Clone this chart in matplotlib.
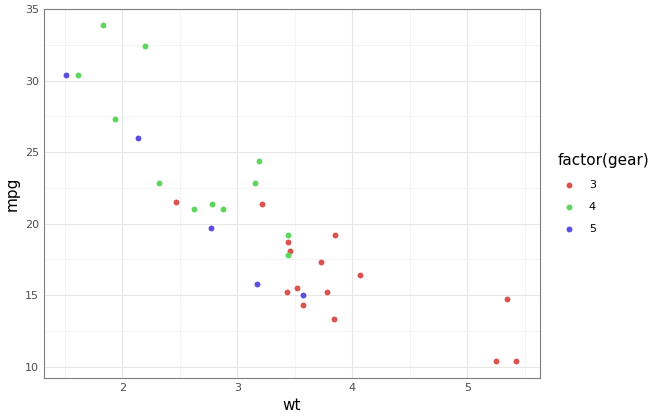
import matplotlib
matplotlib.use("Agg")
import matplotlib.pyplot as plt
import numpy as np

wt = [2.620, 2.875, 2.320, 3.215, 3.440, 3.460, 3.570, 3.190, 3.150, 3.440, 3.440,
      4.070, 3.730, 3.780, 5.250, 5.424, 5.345, 2.200, 1.615, 1.835, 2.465, 3.520,
      3.435, 3.840, 3.845, 1.935, 2.140, 1.513, 3.170, 2.770, 3.570, 2.780]
mpg = [21.0, 21.0, 22.8, 21.4, 18.7, 18.1, 14.3, 24.4, 22.8, 19.2, 17.8,
       16.4, 17.3, 15.2, 10.4, 10.4, 14.7, 32.4, 30.4, 33.9, 21.5, 15.5,
       15.2, 13.3, 19.2, 27.3, 26.0, 30.4, 15.8, 19.7, 15.0, 21.4]
gear = [4, 4, 4, 3, 3, 3, 3, 4, 4, 4, 4, 3, 3, 3, 3, 3, 3, 4, 4, 4, 3, 3,
        3, 3, 3, 4, 5, 5, 5, 5, 5, 4]
levels = [3, 4, 5]
colors = {3: "#d9534f", 4: "#5cd65c", 5: "#5b4fe0"}

fig = plt.figure(figsize=(6.63, 4.2), dpi=100)
ax = fig.add_axes([44 / 663, 42 / 420, 496 / 663, 369 / 420])
wt = np.array(wt); mpg = np.array(mpg); gear = np.array(gear)
for g in levels:
    m = gear == g
    ax.scatter(wt[m], mpg[m], s=18, color=colors[g], label=str(g), zorder=3, linewidths=0)

ax.set_xlim(1.32, 5.63)
ax.set_ylim(9.2, 35.0)
ax.set_xticks([2, 3, 4, 5])
ax.set_yticks([10, 15, 20, 25, 30, 35])
ax.set_xticks(np.arange(1.5, 5.6, 1), minor=True)
ax.set_yticks(np.arange(12.5, 35, 5), minor=True)
ax.grid(True, which="major", color="#e6e6e6", lw=0.8)
ax.grid(True, which="minor", color="#f3f3f3", lw=0.6)
ax.set_axisbelow(True)
for s in ax.spines.values():
    s.set_color("#7f7f7f")
ax.tick_params(which="both", length=0, colors="#4d4d4d", labelsize=8)
ax.tick_params(which="minor", labelbottom=False, labelleft=False)
ax.set_xlabel("wt", fontsize=11, labelpad=4)
ax.set_ylabel("mpg", fontsize=11, labelpad=4)

leg = ax.legend(title="factor(gear)", loc="center left", bbox_to_anchor=(1.02, 0.5),
                frameon=False, fontsize=8, title_fontsize=11, handletextpad=0.8,
                labelspacing=1.1, borderpad=0.2)
leg._legend_box.align = "left"
fig.savefig("out.png", dpi=100, facecolor="white")
